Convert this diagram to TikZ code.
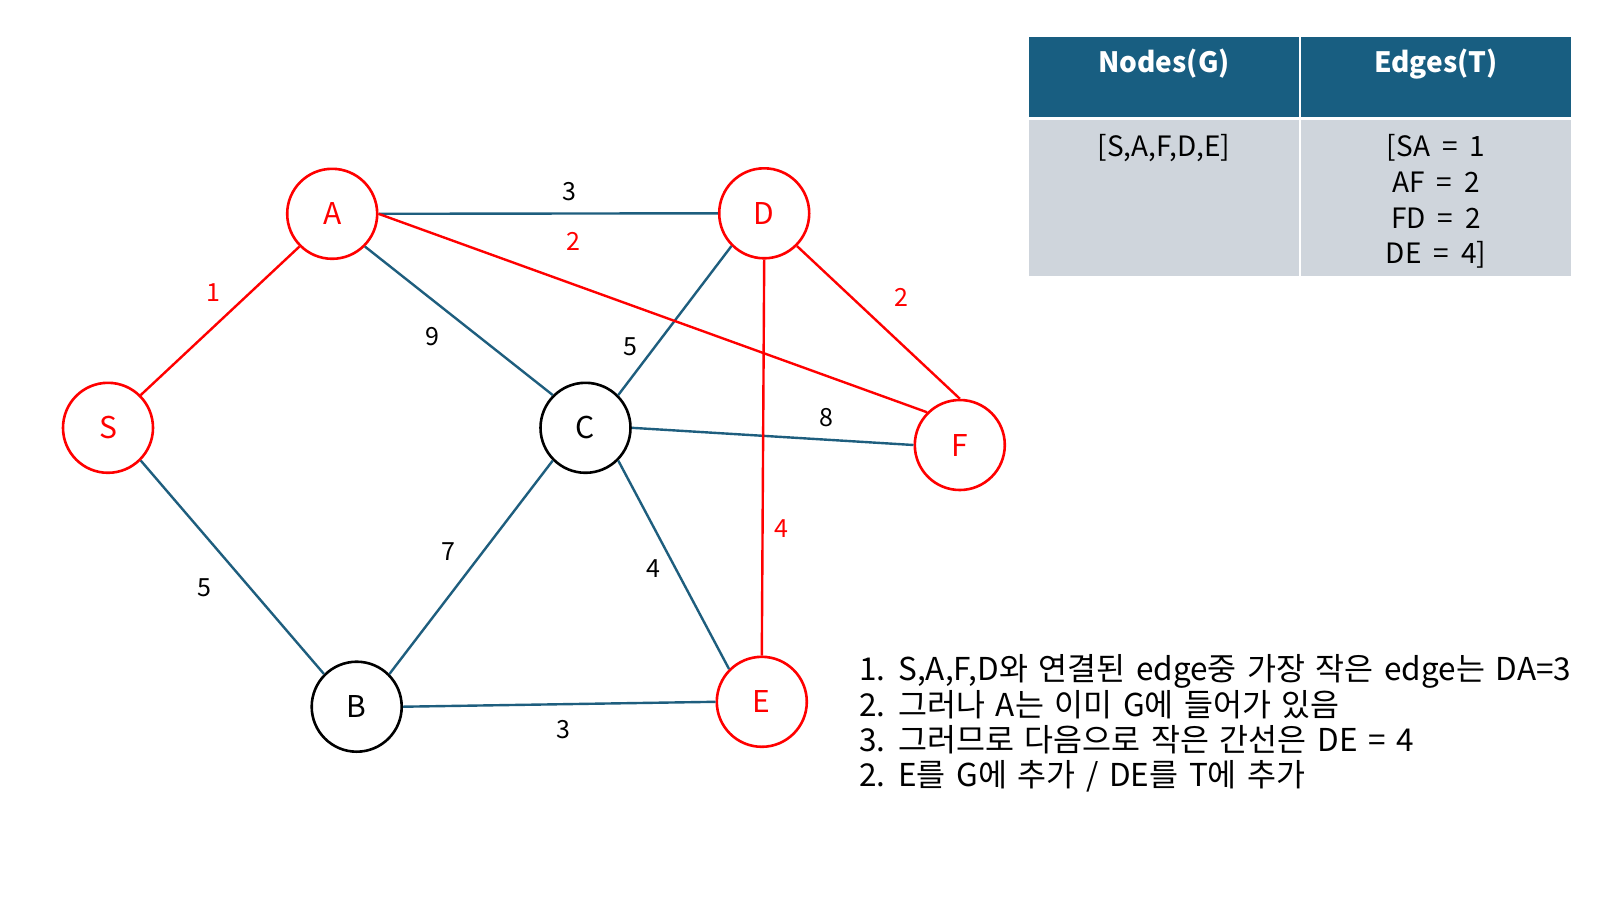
\documentclass[tikz,border=0pt]{standalone}
\usepackage{fontspec}
\setmainfont{Noto Sans CJK KR}
\newfontfamily\notefont[WordSpace=1.5]{Noto Sans CJK KR}
\definecolor{edgeblue}{RGB}{30,94,126}
\definecolor{hdr}{RGB}{24,94,129}
\definecolor{cellgray}{RGB}{207,213,220}
\definecolor{myred}{RGB}{255,0,0}
\newcommand{\eqsp}{\hspace{12pt}=\hspace{12pt}}
\tikzset{
  vtx/.style={circle, draw, line width=2.6pt, minimum size=90pt, inner sep=0pt, fill=white, font=\fontsize{30}{34}\selectfont},
  redv/.style={vtx, draw=myred, text=myred},
  blackv/.style={vtx, draw=black, text=black},
  bedge/.style={draw=edgeblue, line width=2.4pt},
  redge/.style={draw=myred, line width=2.4pt},
  wlab/.style={font=\fontsize{25}{30}\selectfont, text=black, inner sep=0pt},
  rlab/.style={wlab, text=myred},
  hdrtext/.style={font=\fontsize{28}{34}\selectfont\bfseries, text=white, inner sep=0pt},
  celltext/.style={font=\fontsize{28}{35.6}\selectfont, text=black, inner sep=0pt, align=center},
  notetext/.style={font=\notefont\fontsize{31.5}{35.4}\selectfont, text=black, inner sep=0pt, align=left, anchor=west}
}
\begin{document}
\begin{tikzpicture}[x=1pt,y=-1pt]
\useasboundingbox[fill=white] (0,0) rectangle (1600,900);
% vertices
\node[redv] (A) at (332.2,213.8) {A};
\node[redv] (D) at (764.2,213.3) {D};
\node[redv] (S) at (108,427.8) {S};
\node[blackv] (C) at (585.5,427.8) {C};
\node[redv] (F) at (959.8,445) {F};
\node[blackv] (B) at (356.7,706.7) {B};
\node[redv] (E) at (761.8,701.8) {E};
% blue edges
\draw[bedge] (A.east) -- (D.west);
\draw[bedge] (A.-45) -- (C.135);
\draw[bedge] (C.45) -- (D.-135);
\draw[bedge] (C.east) -- (F.west);
\draw[bedge] (S.-45) -- (B.135);
\draw[bedge] (C.-135) -- (B.45);
\draw[bedge] (C.-45) -- (E.135);
\draw[bedge] (B.east) -- (E.west);
% red edges
\draw[redge] (S.45) -- (A.-135);
\draw[redge] (A.east) -- (F.135);
\draw[redge] (D.-45) -- (F.north);
\draw[redge] (D.south) -- (E.north);
% edge labels
\node[wlab] (lAD) at (569.4,191.8) {3};
\node[rlab] (lAF) at (573.5,241.8) {2};
\node[rlab] (lSA) at (213.3,292.9) {1};
\node[wlab] (lAC) at (432.7,336.7) {9};
\node[wlab] (lCD) at (630.6,346.9) {5};
\node[rlab] (lDF) at (901,297) {2};
\node[wlab] (lCF) at (826.5,417.3) {8};
\node[rlab] (lDE) at (781.6,528.6) {4};
\node[wlab] (lCB) at (448,552) {7};
\node[wlab] (lCE) at (653,568.4) {4};
\node[wlab] (lSB) at (204,587.8) {5};
\node[wlab] (lBE) at (563.3,729.6) {3};
% table
\fill[hdr] (1028.6,36.7) rectangle (1298.8,117.3);
\fill[hdr] (1301.2,36.7) rectangle (1571.4,117.3);
\fill[cellgray] (1028.6,120.4) rectangle (1298.8,275.5);
\fill[cellgray] (1301.2,120.4) rectangle (1571.4,275.5);
\node[hdrtext] (h1) at (1164,64) {Nodes(G)};
\node[hdrtext] (h2) at (1436,64) {Edges(T)};
\node[celltext] (c1) at (1164,148) {[S,A,F,D,E]};
\node[celltext] (c2) at (1436,201.5) {[SA\eqsp1\\AF\eqsp2\\FD\eqsp2\\DE\eqsp4]};
% notes
\node[notetext] (notes) at (859,723.5) {1. S,A,F,D와 연결된 edge중 가장 작은 edge는 DA=3\\2. 그러나 A는 이미 G에 들어가 있음\\3. 그러므로 다음으로 작은 간선은 DE = 4\\2. E를 G에 추가 / DE를 T에 추가};
\end{tikzpicture}
\end{document}
